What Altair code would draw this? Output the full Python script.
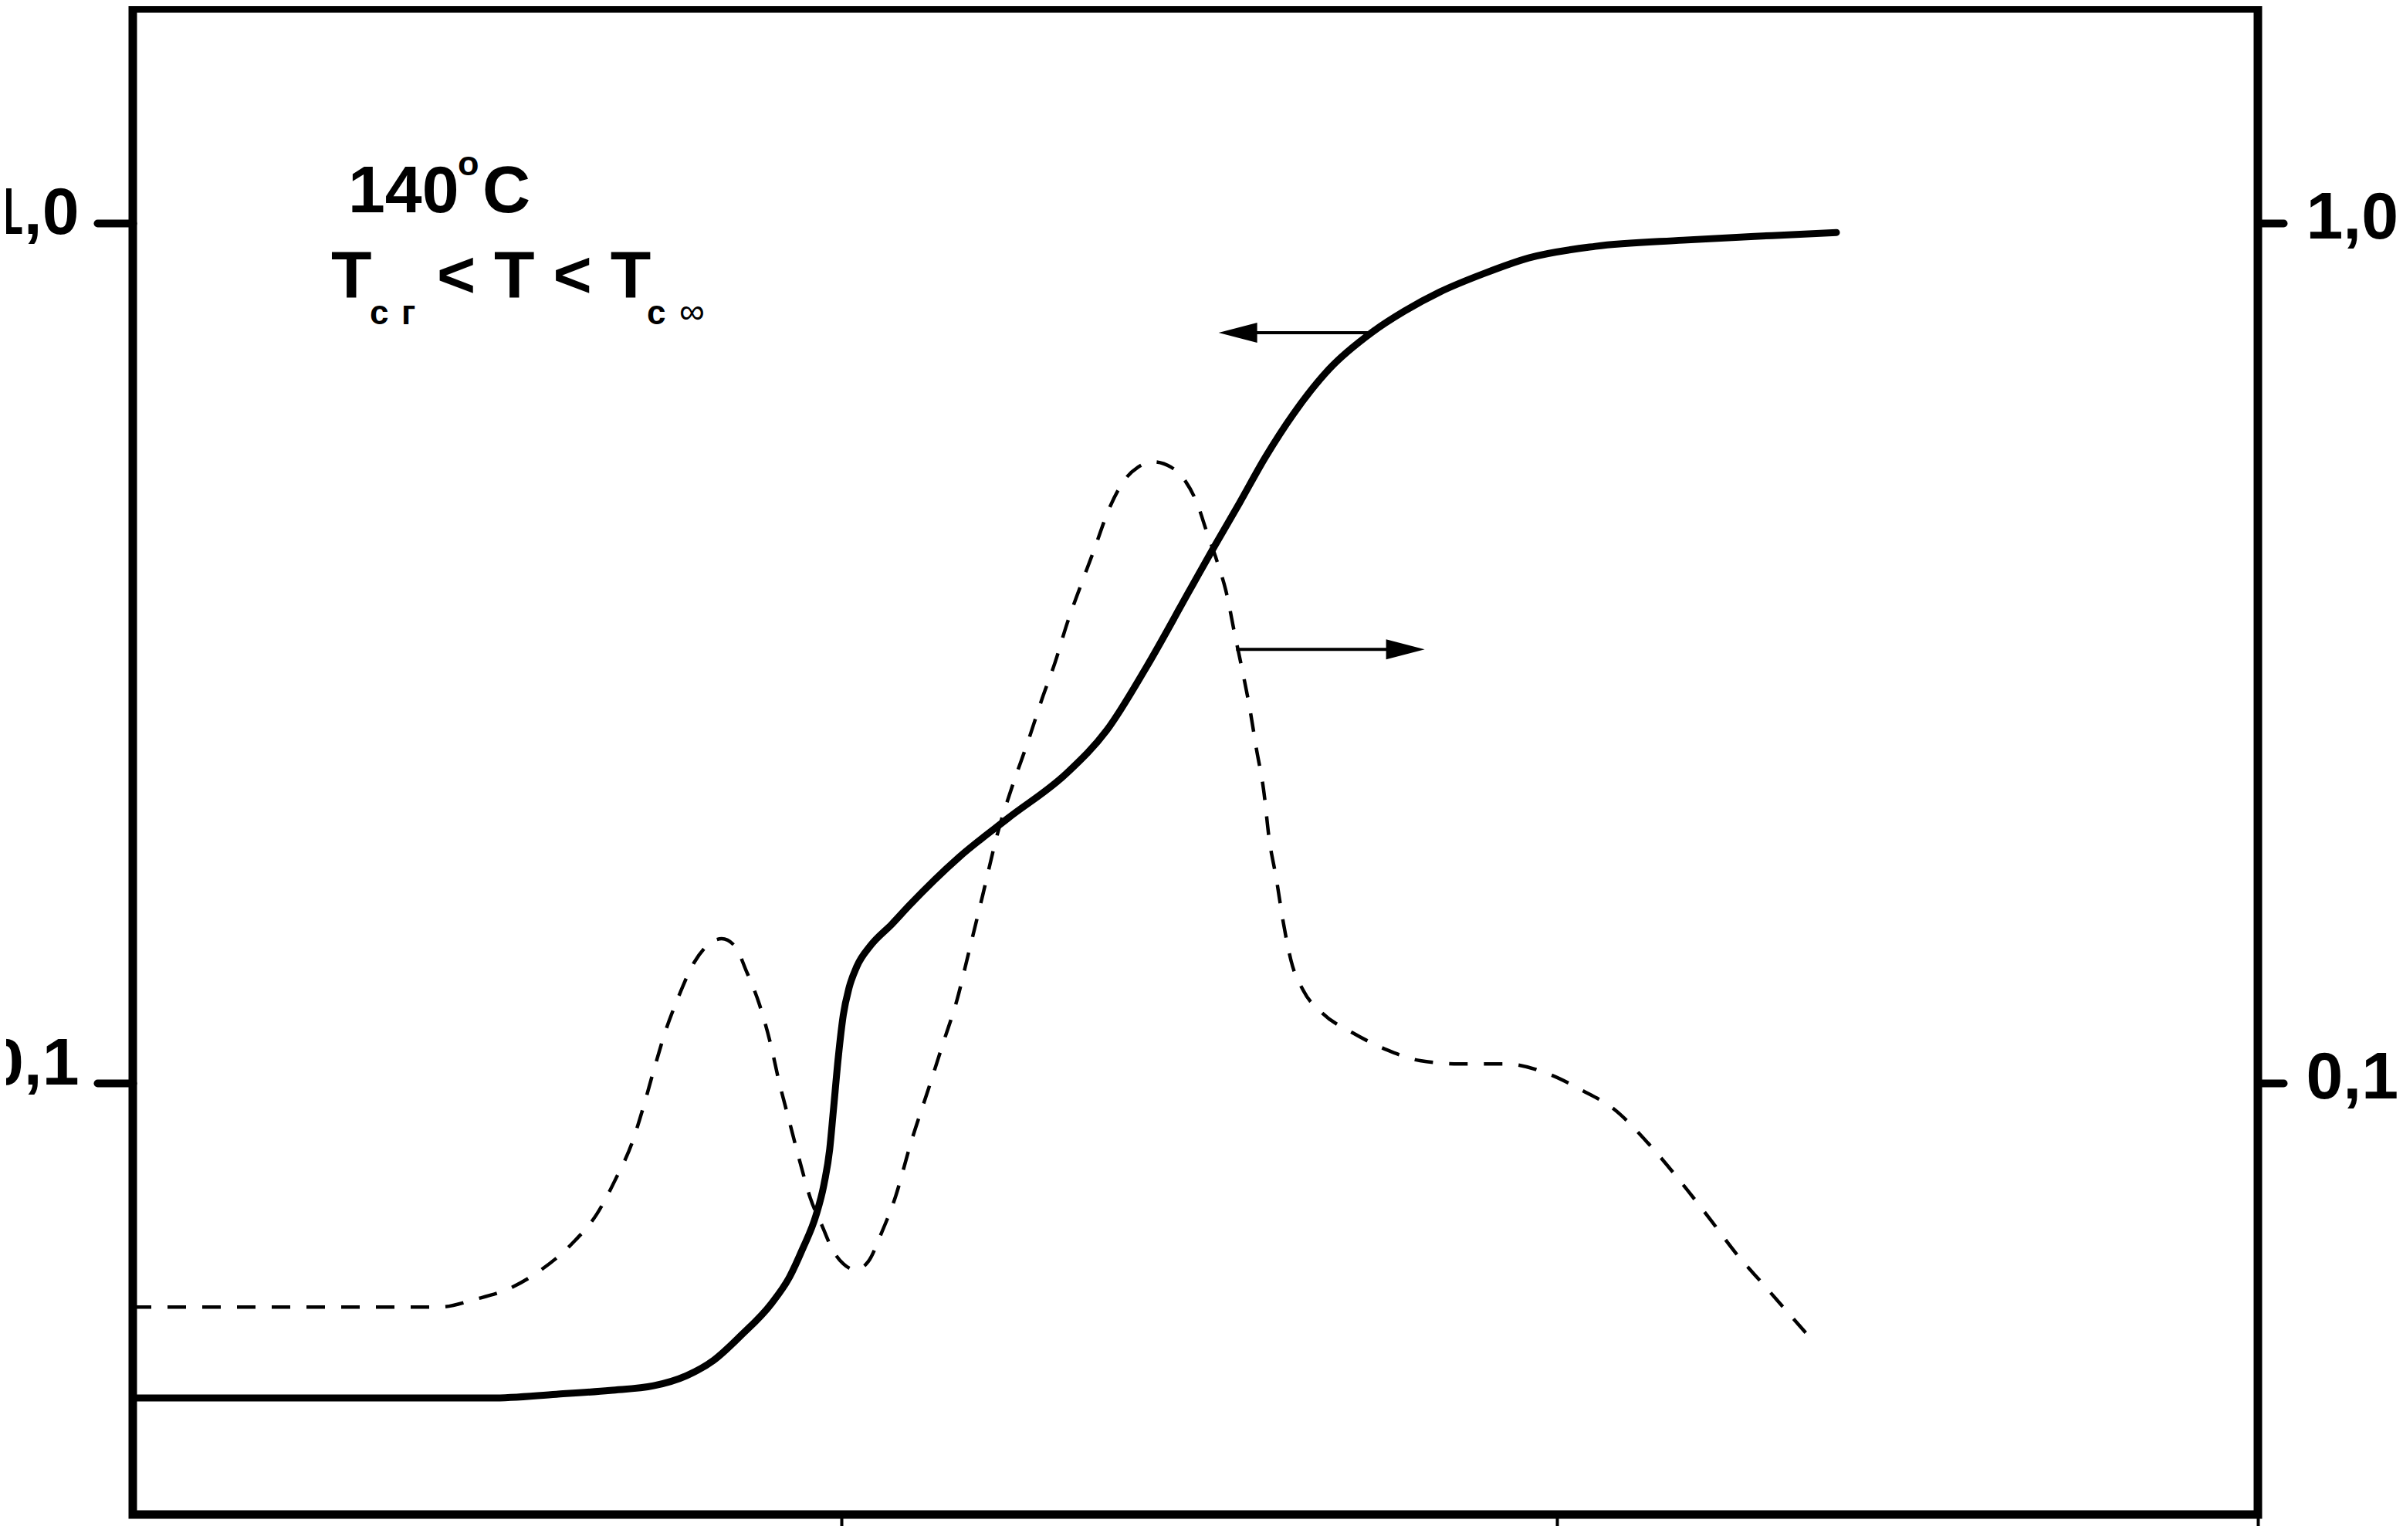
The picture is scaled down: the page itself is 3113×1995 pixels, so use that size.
import altair as alt
import pandas as pd

# ---- data ----
SOLID_X = [0.010, 0.511, 0.602, 0.677, 0.738, 0.784, 0.822, 0.860, 0.903, 0.928,
           0.946, 0.965, 0.976, 0.984, 0.989, 0.996, 1.003, 1.011, 1.022, 1.041,
           1.071, 1.096, 1.164, 1.233, 1.316, 1.371, 1.426, 1.488, 1.522, 1.557,
           1.593, 1.632, 1.682, 1.741, 1.787, 1.837, 1.899, 1.961, 2.054, 2.177,
           2.301, 2.391]
SOLID_Y = [0.04303, 0.04303, 0.04347, 0.04392, 0.04447, 0.04569, 0.04762, 0.05088, 0.05548, 0.05953,
           0.06412, 0.07023, 0.07625, 0.08373, 0.09264, 0.1071, 0.1200, 0.1290, 0.1367, 0.1445,
           0.1531, 0.1612, 0.1829, 0.2032, 0.2296, 0.2571, 0.3040, 0.3754, 0.4214, 0.4732,
           0.5346, 0.6000, 0.6767, 0.7458, 0.7901, 0.8320, 0.8743, 0.9112, 0.9399, 0.9556,
           0.9675, 0.9755]

DASHED_X = [0.010, 0.439, 0.489, 0.534, 0.579, 0.625, 0.659, 0.685, 0.708, 0.723,
            0.738, 0.754, 0.772, 0.795, 0.818, 0.833, 0.852, 0.867, 0.886, 0.901,
            0.913, 0.928, 0.943, 0.957, 0.973, 0.988, 1.003, 1.020, 1.038, 1.056,
            1.076, 1.097, 1.124, 1.143, 1.162, 1.178, 1.198, 1.219, 1.239, 1.261,
            1.282, 1.299, 1.316, 1.333, 1.354, 1.374, 1.395, 1.415, 1.436, 1.461,
            1.481, 1.498, 1.511, 1.525, 1.539, 1.550, 1.560, 1.571, 1.580, 1.591,
            1.598, 1.608, 1.618, 1.629, 1.646, 1.673, 1.715, 1.763, 1.809, 1.863,
            1.928, 1.991, 2.035, 2.079, 2.128, 2.177, 2.215, 2.251, 2.289, 2.326,
            2.361]
DASHED_Y = [0.05491, 0.05491, 0.05606, 0.05758, 0.06051, 0.06520, 0.07052, 0.07739, 0.08530, 0.09342,
            0.1034, 0.1146, 0.1256, 0.1383, 0.1457, 0.1472, 0.1442, 0.1353, 0.1233, 0.1114,
            0.1006, 0.0900, 0.08065, 0.07347, 0.06836, 0.06400, 0.06164, 0.06064, 0.06203, 0.06683,
            0.07379, 0.08495, 0.09959, 0.1116, 0.1250, 0.1415, 0.1656, 0.1957, 0.2212, 0.2494,
            0.2817, 0.3085, 0.3428, 0.3754, 0.4181, 0.4645, 0.5014, 0.5204, 0.5280, 0.5204,
            0.5014, 0.4712, 0.4375, 0.4053, 0.3700, 0.3330, 0.3040, 0.2731, 0.2458, 0.2175,
            0.1929, 0.1733, 0.1537, 0.1386, 0.1281, 0.1205, 0.1144, 0.1093, 0.1062, 0.1053,
            0.1053, 0.1023, 0.09815, 0.09342, 0.08511, 0.07612, 0.06936, 0.06334, 0.05831, 0.05378,
            0.04983]

X_DOMAIN = [0.01, 2.98]
Y_DOMAIN = [0.0315, 1.777]
X_TICKS = [1, 2, 2.98]
Y_TICKS = [0.1, 1.0]

ARROW_TAIL_X = [1.742, 1.552]
ARROW_HEAD_X = [1.5545, 1.7886]
ARROW_Y = [0.7458, 0.3194]
ARROW_SHAPES = ["M -1 0 L 1 -0.52 L 1 0.52 Z", "M 1 0 L -1 -0.52 L -1 0.52 Z"]

TEMP_TEXT = "140"
DEGREE_TEXT = "o"
CELSIUS_TEXT = "C"
T_TEXT = "T"
SUB1_A = "с"
SUB1_B = "г"
MIDDLE_TEXT = "< T < T"
SUB2_A = "с"
SUB2_B = "∞"

FONT = "Liberation Sans"

solid_df = pd.DataFrame({"x": SOLID_X, "y": SOLID_Y})
dashed_df = pd.DataFrame({"x": DASHED_X, "y": DASHED_Y})

x_scale = alt.Scale(domain=X_DOMAIN, nice=False, zero=False)
y_scale = alt.Scale(type="log", domain=Y_DOMAIN, nice=False)

X_AXIS = alt.Axis(values=X_TICKS, labels=False, title=None, domain=False, grid=False,
                  tickSize=40, tickWidth=4, tickColor="black")
LABEL_EXPR = "datum.value >= 1 ? '1,0' : '0,1'"
Y_LEFT = alt.Axis(orient="left", values=Y_TICKS, labelExpr=LABEL_EXPR, title=None,
                  domain=False, grid=False, tickSize=46, tickWidth=10, tickCap="round",
                  tickColor="black", labelPadding=24, labelFont=FONT, labelFontSize=86,
                  labelFontWeight="bold", labelColor="black", labelBaseline="alphabetic",
                  labelOffset={"condition": {"test": "datum.value >= 1", "value": 13}, "value": 1})
Y_RIGHT = alt.Axis(orient="right", values=Y_TICKS, labelExpr=LABEL_EXPR, title=None,
                   domain=False, grid=False, tickSize=33, tickWidth=10, tickCap="round",
                   tickColor="black", labelPadding=29, labelFont=FONT, labelFontSize=86,
                   labelFontWeight="bold", labelColor="black", labelBaseline="alphabetic",
                   labelOffset=19)

solid = alt.Chart(solid_df).mark_line(
    color="black", strokeWidth=9, strokeCap="round", interpolate="monotone", clip=True
).encode(
    x=alt.X("x:Q", scale=x_scale, axis=X_AXIS),
    y=alt.Y("y:Q", scale=y_scale, axis=Y_LEFT),
)

arrows = []
for i in range(len(ARROW_Y)):
    adf = pd.DataFrame({"tail": [ARROW_TAIL_X[i]], "head": [ARROW_HEAD_X[i]], "y": [ARROW_Y[i]]})
    rule = alt.Chart(adf).mark_rule(color="black", strokeWidth=4).encode(
        x=alt.X("tail:Q", scale=x_scale, axis=X_AXIS),
        x2="head:Q",
        y=alt.Y("y:Q", scale=y_scale, axis=Y_LEFT),
    )
    head = alt.Chart(adf).mark_point(
        shape=ARROW_SHAPES[i], filled=True, size=2500, color="black", opacity=1, strokeWidth=0
    ).encode(
        x=alt.X("head:Q", scale=x_scale, axis=X_AXIS),
        y=alt.Y("y:Q", scale=y_scale, axis=Y_LEFT),
    )
    arrows += [rule, head]

left_group = alt.layer(solid, *arrows)

dashed = alt.Chart(dashed_df).mark_line(
    color="black", strokeWidth=4.5, strokeDash=[24, 21], interpolate="monotone", clip=True
).encode(
    x=alt.X("x:Q", scale=x_scale, axis=X_AXIS),
    y=alt.Y("y:Q", scale=y_scale, axis=Y_RIGHT),
)

one = pd.DataFrame({"k": [0]})


def label(txt, px, py, size, weight="bold"):
    return alt.Chart(one).mark_text(
        font=FONT, fontSize=size, fontWeight=weight, color="black",
        align="left", baseline="alphabetic"
    ).encode(x=alt.value(px), y=alt.value(py), text=alt.value(txt))


texts = [
    label(TEMP_TEXT, 279, 264, 86),
    label(DEGREE_TEXT, 421, 216, 45),
    label(CELSIUS_TEXT, 453, 264, 86),
    label(T_TEXT, 257, 374, 86),
    label(SUB1_A, 307, 409, 44),
    label(SUB1_B, 348, 409, 44),
    label(MIDDLE_TEXT, 394, 374, 86),
    label(SUB2_A, 666, 409, 44),
    label(SUB2_B, 708, 408, 46, "normal"),
]

chart = alt.layer(left_group, dashed, *texts).resolve_scale(y="independent").properties(
    width=2753, height=1951,
    autosize=alt.AutoSizeParams(type="none"),
    padding={"left": 164, "top": 3, "right": 180, "bottom": 15},
).configure(
    background="white",
    view=alt.ViewConfig(stroke="black", strokeWidth=11),
)

chart.save("out.html", embed_options={"renderer": "svg", "actions": False})
